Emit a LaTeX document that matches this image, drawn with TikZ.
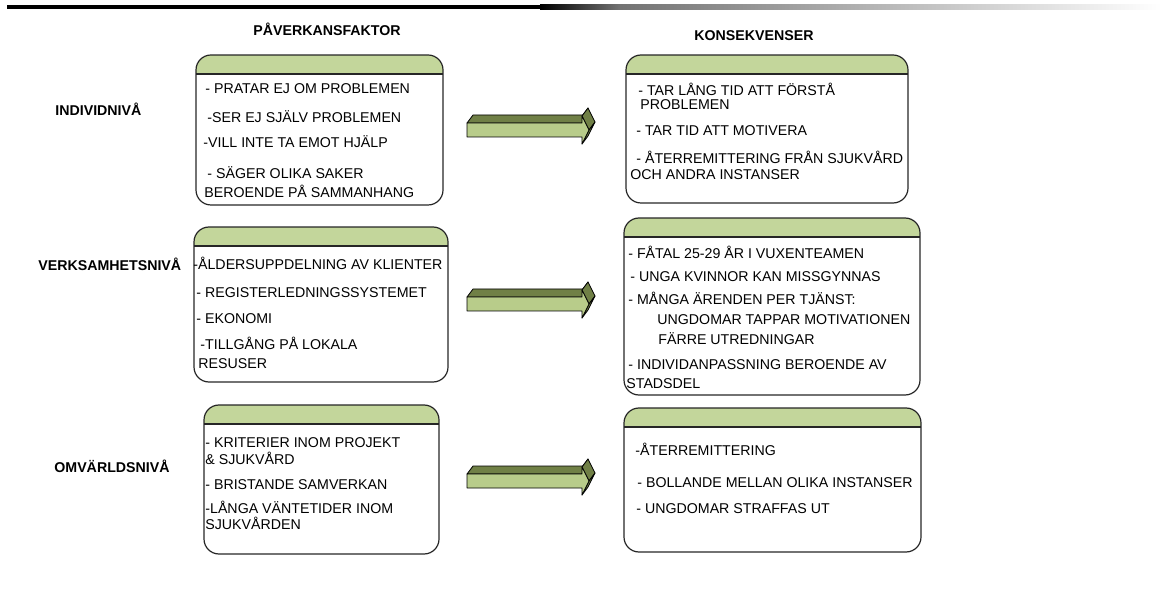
\documentclass[tikz,border=0pt]{standalone}
\usepackage{fontspec}
\setmainfont{Liberation Sans}
\usetikzlibrary{fit}

\definecolor{headgreen}{RGB}{195,214,155}
\definecolor{arrowlight}{RGB}{184,204,138}
\definecolor{arrowdark}{RGB}{112,128,70}

\tikzset{
  infobox/.style={draw=black!85, line width=0.6pt, rounded corners=7.5pt, inner sep=0pt,
    path picture={
      \fill[headgreen, sharp corners] (path picture bounding box.north west) rectangle ([yshift=-9.5pt]path picture bounding box.north east);
      \draw[black!85, line width=0.6pt, sharp corners] ([yshift=-9.5pt]path picture bounding box.north west) -- ([yshift=-9.5pt]path picture bounding box.north east);}},
  item/.style={anchor=west, inner sep=0pt, text height=5.1pt, text depth=0pt, font=\fontsize{7.1}{8.5}\selectfont},
  level/.style={item, font=\fontsize{7.1}{8.5}\selectfont\bfseries},
  heading/.style={level, anchor=center},
  pics/fatarrow/.style={code={
    \begin{scope}[draw=black, line width=0.4pt, line join=round]
    \filldraw[fill=arrowdark] (115,-7) -- (115,-14) -- (121,-22) -- (121,-15) -- cycle;
    \filldraw[fill=arrowdark] (0,-7) -- (115,-7) -- (121,-15) -- (6,-15) -- cycle;
    \filldraw[fill=arrowdark] (115,-14) -- (122,0) -- (128,-8) -- (121,-22) -- cycle;
    \filldraw[fill=arrowdark] (122,0) -- (115,14) -- (121,6) -- (128,-8) -- cycle;
    \filldraw[fill=arrowlight] (0,-7) -- (115,-7) -- (115,-14) -- (122,0) -- (115,14) -- (115,7) -- (0,7) -- cycle;
    \end{scope}}}
}

\begin{document}
\begin{tikzpicture}[x=0.5pt,y=-0.5pt]
\useasboundingbox (0,0) rectangle (1161,598);

% bar at the top
\fill[black] (7,5) rectangle (540,9.5);
\shade[left color=black, right color=black!55] (540,5) rectangle (620,9.5);
\shade[left color=black!55, right color=white] (620,5) rectangle (1161,9.5);

% headings
\node[heading] (hpav) at (327,30) {PÅVERKANSFAKTOR};
\node[heading] (hkon) at (754,35) {KONSEKVENSER};

% levels
\node[level] (lind) at (55,110) {INDIVIDNIVÅ};
\node[level] (lverk) at (38,265) {VERKSAMHETSNIVÅ};
\node[level] (lomv) at (54,467) {OMVÄRLDSNIVÅ};

% boxes
\node[infobox, fit={(196,55) (443,205)}] (pav1) {};
\node[infobox, fit={(626,55) (908,203)}] (kon1) {};
\node[infobox, fit={(194,227) (448,382)}] (pav2) {};
\node[infobox, fit={(624,218) (920,395)}] (kon2) {};
\node[infobox, fit={(204,405) (439,554)}] (pav3) {};
\node[infobox, fit={(624,408) (921,552)}] (kon3) {};

% arrows
\pic at (467,130) {fatarrow};
\pic at (467,304) {fatarrow};
\pic at (467,481) {fatarrow};

% individniva
\node[item] (p1a) at (205,88) {- PRATAR EJ OM PROBLEMEN};
\node[item] (p1b) at (207,117) {-SER EJ SJÄLV PROBLEMEN};
\node[item] (p1c) at (203,142) {-VILL INTE TA EMOT HJÄLP};
\node[item] (p1d) at (207,173) {- SÄGER OLIKA SAKER};
\node[item] (p1e) at (204,192) {BEROENDE PÅ SAMMANHANG};

\node[item] (k1a) at (638,90) {- TAR LÅNG TID ATT FÖRSTÅ};
\node[item] (k1b) at (640,104) {PROBLEMEN};
\node[item] (k1c) at (636,130) {- TAR TID ATT MOTIVERA};
\node[item] (k1d) at (636,158) {- ÅTERREMITTERING FRÅN SJUKVÅRD};
\node[item] (k1e) at (630,174) {OCH ANDRA INSTANSER};

% verksamhetsniva
\node[item] (p2a) at (193,264) {-ÅLDERSUPPDELNING AV KLIENTER};
\node[item] (p2b) at (196,292) {- REGISTERLEDNINGSSYSTEMET};
\node[item] (p2c) at (196,318) {- EKONOMI};
\node[item] (p2d) at (200,344) {-TILLGÅNG PÅ LOKALA};
\node[item] (p2e) at (198,363) {RESUSER};

\node[item] (k2a) at (628,253) {- FÅTAL 25-29 ÅR I VUXENTEAMEN};
\node[item] (k2b) at (630,276) {- UNGA KVINNOR KAN MISSGYNNAS};
\node[item] (k2c) at (628,299) {- MÅNGA ÄRENDEN PER TJÄNST:};
\node[item] (k2d) at (657,319) {UNGDOMAR TAPPAR MOTIVATIONEN};
\node[item] (k2e) at (658,339) {FÄRRE UTREDNINGAR};
\node[item] (k2f) at (628,364) {- INDIVIDANPASSNING BEROENDE AV};
\node[item] (k2g) at (626,383) {STADSDEL};

% omvarldsniva
\node[item] (p3a) at (205,442) {- KRITERIER INOM PROJEKT};
\node[item] (p3b) at (205,459) {\& SJUKVÅRD};
\node[item] (p3c) at (205,484) {- BRISTANDE SAMVERKAN};
\node[item] (p3d) at (205,508) {-LÅNGA VÄNTETIDER INOM};
\node[item] (p3e) at (205,524) {SJUKVÅRDEN};

\node[item] (k3a) at (635,450) {-ÅTERREMITTERING};
\node[item] (k3b) at (637,482) {- BOLLANDE MELLAN OLIKA INSTANSER};
\node[item] (k3c) at (636,508) {- UNGDOMAR STRAFFAS UT};
\end{tikzpicture}
\end{document}
